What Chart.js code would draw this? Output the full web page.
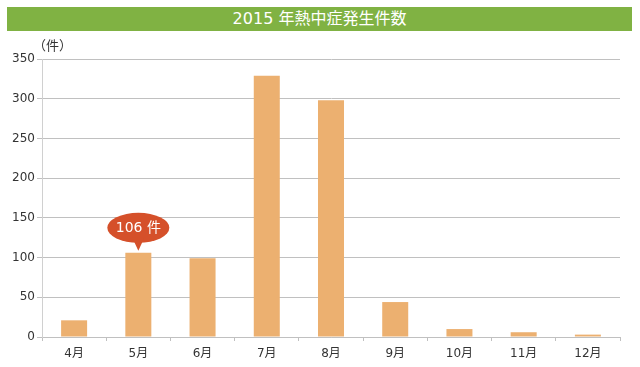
<!DOCTYPE html>
<html>
<head>
<meta charset="utf-8">
<script src="https://cdn.jsdelivr.net/npm/chart.js@4"></script>
<style>
  html, body { margin: 0; padding: 0; background: #fff; }
  #wrap { position: relative; width: 640px; height: 367px; }
  #title {
    position: absolute; left: 7px; top: 7px; width: 625px; height: 24px;
    background: #80b243; color: #fff; text-align: center;
    font: 16px "DejaVu Sans", "Noto Sans CJK JP", sans-serif; line-height: 24px;
  }
  #chart { position: absolute; left: 0; top: 0; }
</style>
</head>
<body>
<div id="wrap">
  <canvas id="chart" width="640" height="367"></canvas>
  <div id="title">2015 年熱中症発生件数</div>
</div>
<script>
// データ
const months = ['4月', '5月', '6月', '7月', '8月', '9月', '10月', '11月', '12月'];
const cases = [21, 106, 99, 329, 298, 44, 10, 6, 3];
const yTicks = [0, 50, 100, 150, 200, 250, 300, 350];
const calloutIndex = 1;
const calloutText = '106 件';
const unitLabel = '（件）';

const FONT = '"DejaVu Sans", "Noto Sans CJK JP", sans-serif';

// 吹き出し + 単位
const calloutPlugin = {
    id: 'callout',
    afterDatasetsDraw(chart) {
        const ctx = chart.ctx;
        const bar = chart.getDatasetMeta(0).data[calloutIndex];
        const x = bar.x;
        const top = bar.y;
        const cy = top - 25;
        ctx.save();
        ctx.fillStyle = '#d5502a';
        ctx.beginPath();
        ctx.ellipse(x, cy, 31, 15, 0, 0, Math.PI * 2);
        ctx.fill();
        ctx.beginPath();
        ctx.moveTo(x - 6, cy + 10);
        ctx.lineTo(x + 6, cy + 10);
        ctx.lineTo(x, top - 2);
        ctx.closePath();
        ctx.fill();
        ctx.fillStyle = '#fff';
        ctx.font = '14px ' + FONT;
        ctx.textAlign = 'center';
        ctx.textBaseline = 'middle';
        ctx.fillText(calloutText, x, cy + 1);

        ctx.fillStyle = '#333';
        ctx.font = '13px ' + FONT;
        ctx.textAlign = 'left';
        ctx.textBaseline = 'middle';
        ctx.fillText(unitLabel, chart.chartArea.left - 9, 47);
        ctx.restore();
    }
};

const ctx = document.getElementById('chart').getContext('2d');
new Chart(ctx, {
    type: 'bar',
    data: {
        labels: months,
        datasets: [{
            data: cases,
            backgroundColor: '#ecb070',
            borderWidth: 0,
            barPercentage: 0.405,
            categoryPercentage: 1
        }]
    },
    options: {
        responsive: false,
        animation: false,
        layout: { padding: { top: 59, right: 20, left: 0, bottom: 0 } },
        plugins: {
            legend: { display: false },
            tooltip: { enabled: false }
        },
        scales: {
            x: {
                grid: { drawOnChartArea: false, drawTicks: true, tickLength: 4, color: '#c0c0c0' },
                border: { color: '#c0c0c0' },
                ticks: { color: '#333', font: { family: FONT, size: 12 }, padding: 6 },
                afterFit(scale) { scale.height = 30; }
            },
            y: {
                min: 0,
                max: 350,
                afterBuildTicks(scale) { scale.ticks = yTicks.map(v => ({ value: v })); },
                grid: { color: '#c0c0c0', tickLength: 5 },
                border: { color: '#d0d0d0' },
                ticks: { color: '#333', font: { family: FONT, size: 12 }, padding: 2 },
                afterFit(scale) { scale.width = 42; }
            }
        }
    },
    plugins: [calloutPlugin]
});
</script>
</body>
</html>
